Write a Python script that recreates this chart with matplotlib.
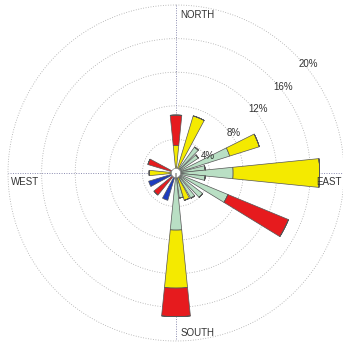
import numpy as np
import matplotlib
matplotlib.use("Agg")
import matplotlib.pyplot as plt

plt.rcParams['font.family'] = ['Liberation Sans', 'DejaVu Sans']

# wind directions (compass degrees) and stacked frequency classes in %
directions = [0, 22.5, 40, 52, 68, 80, 90, 100, 117, 132, 145, 157.5, 168, 180,
              202.5, 225, 247.5, 270, 292.5]
green = [0, 0, 3.8, 3.2, 6.7, 3.5, 6.8, 3.5, 6.7, 4.0, 3.5, 0, 3.0, 6.8,
         0, 0, 0, 0, 0]
yellow = [3.3, 7.1, 0, 0, 3.7, 0, 10.3, 0, 0, 0, 0, 3.4, 0, 6.9,
          0, 0, 0, 3.2, 0]
red = [3.6, 0, 0, 0, 0, 0, 0, 0, 7.8, 0, 0, 0, 0, 3.4,
       0, 3.4, 0, 0, 3.5]
blue = [0, 0, 0, 0, 0, 0, 0, 0, 0, 0, 0, 0, 0, 0,
        3.4, 0, 3.4, 0, 0]
rings = [4, 8, 12, 16, 20]
cardinals = ['NORTH', 'EAST', 'SOUTH', 'WEST']

colors = ['#b9dfc4', '#f4ea00', '#e61b1e', '#1d3cbf']

fig = plt.figure(figsize=(3.43, 3.43), dpi=100)
ax = fig.add_axes([8 / 343, 2 / 343, 336 / 343, 336 / 343], projection='polar')
ax.set_theta_zero_location('N')
ax.set_theta_direction(-1)
ax.set_ylim(0, 20)
ax.grid(False)
ax.set_xticks([])
ax.set_yticks([])
ax.spines['polar'].set_visible(False)

theta = np.deg2rad(directions)
width = np.array([np.deg2rad(11.5) if d % 22.5 == 0 else np.deg2rad(9) for d in directions])
bottom = np.zeros(len(directions))
for vals, c in zip([green, yellow, red, blue], colors):
    vals = np.array(vals)
    ax.bar(theta, vals, width=width, bottom=bottom, color=c,
           edgecolor='#555555', linewidth=0.5, zorder=3)
    bottom = bottom + vals

# rings
tt = np.linspace(0, 2 * np.pi, 400)
label_angle = {4: 62, 8: 55, 12: 52, 16: 51, 20: 50.5}
for r in rings:
    ax.plot(tt, np.full_like(tt, r), ls=(0, (1, 2)), color='#a8a8a8',
            lw=0.6, clip_on=False, zorder=1)
    ax.text(np.deg2rad(label_angle[r]), r + 0.35, f'{r}%', ha='center', va='center',
            fontsize=7, color='#333333', zorder=4)

# cross lines
for a in [0, 90]:
    ax.plot([np.deg2rad(a), np.deg2rad(a + 180)], [20, 20], ls=(0, (1, 1.5)),
            color='#8b8bb0', lw=0.7, zorder=2)

ax.bar([0], [0.55], width=2 * np.pi, color='white', edgecolor='#888888',
       linewidth=0.5, zorder=5)

# direction labels
ax.text(np.deg2rad(1.5), 18.8, cardinals[0], ha='left', va='center', fontsize=7, color='#333333')
ax.text(np.deg2rad(93.3), 18.2, cardinals[1], ha='center', va='center', fontsize=7, color='#333333')
ax.text(np.deg2rad(178.5), 19.0, cardinals[2], ha='left', va='center', fontsize=7, color='#333333')
ax.text(np.deg2rad(266.5), 18.0, cardinals[3], ha='center', va='center', fontsize=7, color='#333333')

fig.savefig('out.png', dpi=100, facecolor='white')
